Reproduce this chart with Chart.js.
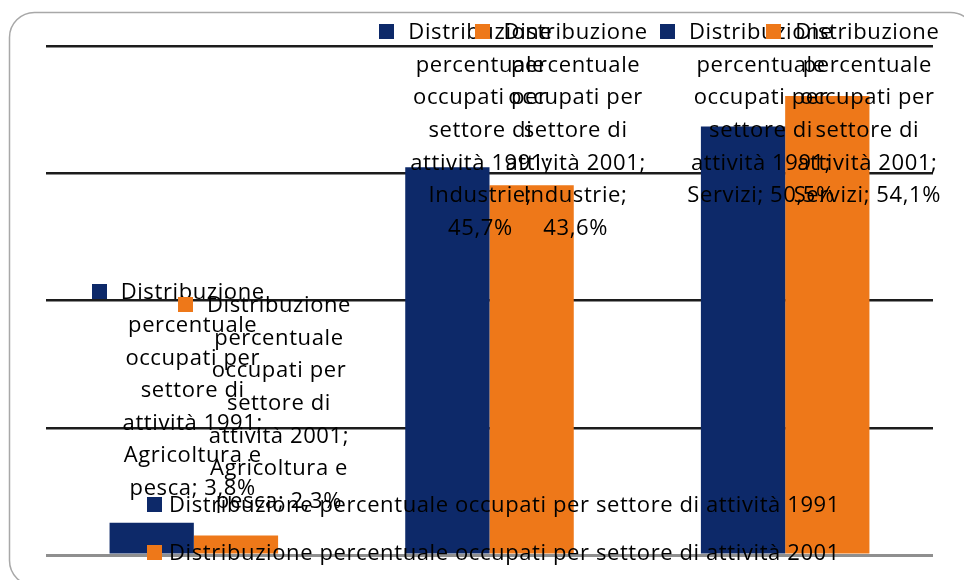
<!DOCTYPE html>
<html>
<head>
<meta charset="utf-8">
<script src="https://cdn.jsdelivr.net/npm/chart.js@4.4.1/dist/chart.umd.min.js"></script>
<style>
  html, body { margin: 0; padding: 0; background: #ffffff; }
  #wrap { width: 964px; height: 580px; position: relative; }
</style>
</head>
<body>
<div id="wrap"><canvas id="c" width="964" height="580"></canvas></div>
<script>
// ---- Data ----
const categories = ['Agricoltura e pesca', 'Industrie', 'Servizi'];
const seriesLabels = [
  'Distribuzione percentuale occupati per settore di attività 1991',
  'Distribuzione percentuale occupati per settore di attività 2001'
];
const values1991 = [3.8, 45.7, 50.5];
const values2001 = [2.3, 43.6, 54.1];
const yTickValues = [0, 15, 30, 45, 60];

// ---- Style ----
const NAVY = '#0d2969';
const ORANGE = '#ee7819';
const FONT = '"Open Sans", sans-serif';
const FONT_SIZE = 22;
const LETTER_SPACING = '0.6px';

function fmt(v) { return v.toFixed(1).replace('.', ',') + '%'; }

function wrapText(ctx, text, maxW) {
  const words = text.split(' ');
  const lines = [];
  let cur = '';
  for (const w of words) {
    const test = cur ? cur + ' ' + w : w;
    if (ctx.measureText(test).width > maxW && cur) {
      lines.push(cur);
      cur = w;
    } else {
      cur = test;
    }
  }
  if (cur) lines.push(cur);
  return lines;
}

function setFont(ctx) {
  ctx.font = FONT_SIZE + 'px ' + FONT;
  if ('letterSpacing' in ctx) ctx.letterSpacing = LETTER_SPACING;
}

const framePlugin = {
  id: 'frame',
  beforeDraw(chart) {
    const ctx = chart.ctx;
    ctx.save();
    ctx.fillStyle = '#ffffff';
    ctx.fillRect(0, 0, chart.width, chart.height);
    ctx.strokeStyle = '#a8a8a8';
    ctx.lineWidth = 1.5;
    ctx.beginPath();
    ctx.roundRect(9.5, 12.5, 966, 573, 25);
    ctx.stroke();
    ctx.restore();
  }
};

const labelPlugin = {
  id: 'mlabels',
  afterDatasetsDraw(chart, args, opts) {
    const ctx = chart.ctx;
    const area = chart.chartArea;
    ctx.save();
    setFont(ctx);
    ctx.textBaseline = 'middle';
    ctx.textAlign = 'center';
    const lh = opts.lineHeight;
    chart.data.datasets.forEach((ds, i) => {
      const meta = chart.getDatasetMeta(i);
      meta.data.forEach((bar, j) => {
        const text = ds.label + '; ' + categories[j] + '; ' + fmt(ds.data[j]);
        const lines = wrapText(ctx, text, opts.maxWidth);
        const cx = bar.x + opts.dx[i][j];
        let first = bar.y - opts.gap - (lines.length - 1) * lh;
        const minFirst = area.top - 14;
        if (first < minFirst) first = minFirst;
        ctx.fillStyle = '#000000';
        lines.forEach((ln, k) => {
          ctx.fillText(ln, cx, first + k * lh + 1);
        });
        const w0 = ctx.measureText(lines[0]).width;
        const left = cx - w0 / 2;
        ctx.fillStyle = ds.backgroundColor;
        ctx.fillRect(Math.round(left - 29), Math.round(first - 8), 15, 15);
      });
    });
    ctx.restore();
  }
};

const legendPlugin = {
  id: 'blegend',
  afterDraw(chart) {
    const ctx = chart.ctx;
    ctx.save();
    setFont(ctx);
    ctx.textBaseline = 'middle';
    ctx.textAlign = 'left';
    const ys = [505, 553];
    chart.data.datasets.forEach((ds, i) => {
      ctx.fillStyle = ds.backgroundColor;
      ctx.fillRect(147, ys[i] - 8, 15, 15);
      ctx.fillStyle = '#000000';
      ctx.fillText(ds.label, 169, ys[i] + 1);
    });
    ctx.restore();
  }
};

new Chart(document.getElementById('c'), {
  type: 'bar',
  data: {
    labels: categories,
    datasets: [
      { label: seriesLabels[0], data: values1991, backgroundColor: NAVY, borderWidth: 0 },
      { label: seriesLabels[1], data: values2001, backgroundColor: ORANGE, borderWidth: 0 }
    ]
  },
  options: {
    responsive: false,
    animation: false,
    layout: { padding: { left: 46, right: 31, top: 46, bottom: 25 } },
    datasets: { bar: { categoryPercentage: 0.57, barPercentage: 1.0 } },
    scales: {
      x: {
        display: false,
        grid: { display: false }
      },
      y: {
        min: yTickValues[0],
        max: yTickValues[yTickValues.length - 1],
        afterBuildTicks(axis) { axis.ticks = yTickValues.map(v => ({ value: v })); },
        ticks: { display: false, padding: 0 },
        border: { display: false },
        grid: {
          drawTicks: false,
          tickLength: 0,
          color: (c) => (c.tick && c.tick.value === 0) ? '#8f8f8f' : '#1c1c1c',
          lineWidth: (c) => (c.tick && c.tick.value === 0) ? 3 : 2.5
        }
      }
    },
    plugins: {
      legend: { display: false },
      tooltip: { enabled: false },
      mlabels: {
        maxWidth: 153,
        lineHeight: 32.6,
        gap: 35,
        dx: [[41, 33, 18], [43, 44, 40]]
      }
    }
  },
  plugins: [framePlugin, labelPlugin, legendPlugin]
});
</script>
</body>
</html>
